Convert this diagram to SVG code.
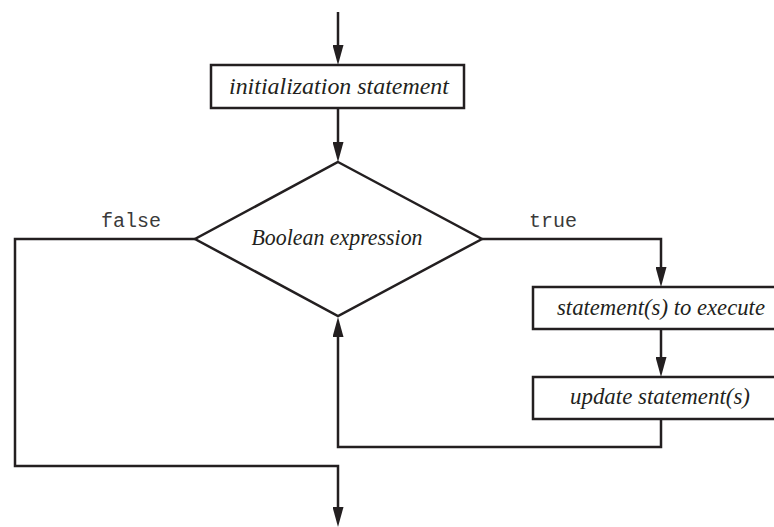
<svg xmlns="http://www.w3.org/2000/svg" width="774" height="527" viewBox="0 0 774 527">
<style>
.shape{fill:#fff;stroke:#231f20;stroke-width:2.5}
.conn{fill:none;stroke:#231f20;stroke-width:2.5;stroke-linejoin:miter}
.lbl{font-family:"Liberation Serif","Times New Roman",serif;font-style:italic;font-size:23px;fill:#231f20;text-anchor:middle}
.mono{font-family:"Liberation Mono","Courier New",monospace;font-size:20px;fill:#3a3a3a;text-anchor:middle}
</style>
<defs>
<marker id="arr" markerUnits="userSpaceOnUse" markerWidth="20" markerHeight="11" refX="12" refY="5.5" orient="auto">
<path d="M0,0 L20,5.5 L0,11 z" fill="#231f20"/>
</marker>
</defs>
<rect width="774" height="527" fill="#fff"/>
<g id="connectors">
<path class="conn" d="M338,12 V57" marker-end="url(#arr)"/>
<path class="conn" d="M338,108 V154" marker-end="url(#arr)"/>
<path class="conn" d="M482,239 H661 V279" marker-end="url(#arr)"/>
<path class="conn" d="M661,329 V369" marker-end="url(#arr)"/>
<path class="conn" d="M661,419 V447 H338 V325" marker-end="url(#arr)"/>
<path class="conn" d="M195,239 H15 V466 H338 V519" marker-end="url(#arr)"/>
<text class="mono" x="131" y="227">false</text>
<text class="mono" x="553" y="227">true</text>
</g>
<g id="init">
<rect class="shape" x="211" y="65" width="253" height="43"/>
<text class="lbl" x="339" y="94" textLength="220" lengthAdjust="spacingAndGlyphs">initialization statement</text>
</g>
<g id="condition">
<polygon class="shape" points="338,162 482,239 338,316 195,239"/>
<text class="lbl" x="337" y="245" textLength="171" lengthAdjust="spacingAndGlyphs">Boolean expression</text>
</g>
<g id="body">
<rect class="shape" x="533" y="287" width="260" height="42"/>
<text class="lbl" x="661" y="315" textLength="208" lengthAdjust="spacingAndGlyphs">statement(s) to execute</text>
</g>
<g id="update">
<rect class="shape" x="533" y="377" width="260" height="42"/>
<text class="lbl" x="660" y="404" textLength="180" lengthAdjust="spacingAndGlyphs">update statement(s)</text>
</g>
</svg>
